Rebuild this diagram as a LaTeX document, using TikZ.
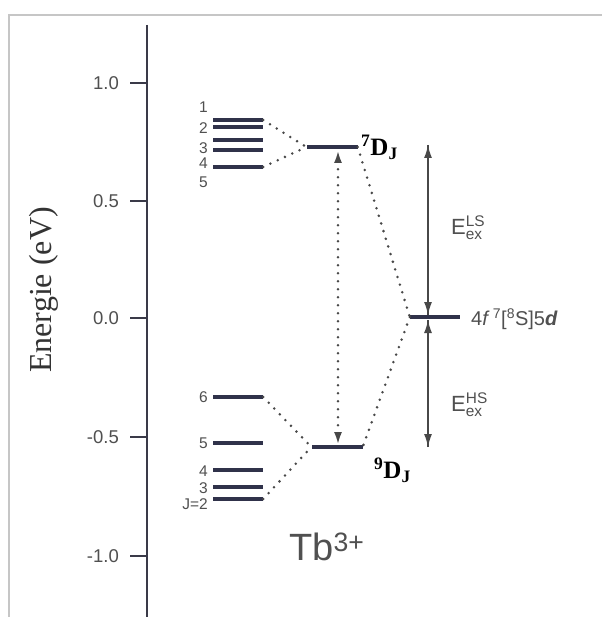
\documentclass[tikz,border=0pt]{standalone}
\usepackage{fontspec}
\setmainfont{Liberation Serif}
\setsansfont{Liberation Sans}
\usetikzlibrary{
    arrows.meta,
    positioning,
    calc
}
\definecolor{levelcol}{HTML}{30324A}
\definecolor{textcol}{HTML}{505050}
\definecolor{axiscol}{HTML}{3A3A48}
\definecolor{dotcol}{HTML}{484848}
\definecolor{framecol}{HTML}{C6C6C6}

\begin{document}
\begin{tikzpicture}[
    x=1pt,
    y=-1pt,
    every node/.style={
        inner sep=0pt,
        text=textcol,
        font=\sffamily\fontsize{18pt}{20pt}\selectfont
    },
    level/.style={
        rectangle,
        fill=levelcol,
        minimum width=50pt,
        minimum height=4pt,
        inner sep=0pt
    },
    lvlabel/.style={
        anchor=east,
        font=\sffamily\fontsize{15.5pt}{17pt}\selectfont
    },
    ticklabel/.style={
        anchor=east,
        font=\sffamily\fontsize{18.5pt}{20pt}\selectfont
    },
    termlabel/.style={
        anchor=west,
        text=black,
        font=\rmfamily\bfseries\fontsize{25pt}{27pt}\selectfont
    },
    axis/.style={
        draw=axiscol,
        line width=2pt
    },
    dotline/.style={
        draw=dotcol,
        line width=2.8pt,
        line cap=round,
        dash pattern=on 0pt off 8pt
    },
    dotarrow/.style={
        dotline,
        {Latex[length=13pt,width=8pt]}-{Latex[length=13pt,width=8pt]}
    },
    arrow/.style={
        draw=dotcol,
        line width=1.5pt,
        -{Latex[length=13pt,width=8pt]}
    },
    energy/.style={
        anchor=base west,
        font=\sffamily\fontsize{22pt}{24pt}\selectfont
    }
]

% page and frame
\fill[white] (0,0) rectangle (602,617);
\useasboundingbox (0,0) rectangle (602,617);
\draw[framecol, line width=2pt] (9,617) -- (9,15) -- (602,15);

% ===========================================================
% ENERGY AXIS
% ===========================================================

\draw[axis] (147,25) -- (147,617);

\draw[axis] (130,83) -- (147,83);
\draw[axis] (130,201) -- (147,201);
\draw[axis] (130,318) -- (147,318);
\draw[axis] (130,437) -- (147,437);
\draw[axis] (130,556) -- (147,556);

\node[ticklabel] (t1) at (119,83) {1.0};
\node[ticklabel] (t2) at (119,201) {0.5};
\node[ticklabel] (t3) at (119,318) {0.0};
\node[ticklabel] (t4) at (119,437) {-0.5};
\node[ticklabel] (t5) at (119,556) {-1.0};

\node[
    rotate=90,
    text=black!80,
    font=\rmfamily\fontsize{32pt}{34pt}\selectfont
] (ylabel) at (44,290) {Energie (eV)};

% ===========================================================
% 7F_J MULTIPLET
% ===========================================================

% upper part (J = 1 ... 5)
\node[level] (fu1) at (238,120) {};
\node[level] (fu2) at (238,127) {};
\node[level] (fu3) at (238,140) {};
\node[level] (fu4) at (238,150) {};
\node[level] (fu5) at (238,167) {};

\node[lvlabel] (lu1) at (208,107) {1};
\node[lvlabel] (lu2) at (208,128) {2};
\node[lvlabel] (lu3) at (208,148) {3};
\node[lvlabel] (lu4) at (208,163) {4};
\node[lvlabel] (lu5) at (208,182) {5};

% lower part (J = 6 ... 2)
\node[level] (fl6) at (238,397) {};
\node[level] (fl5) at (238,443) {};
\node[level] (fl4) at (238,470) {};
\node[level] (fl3) at (238,487) {};
\node[level] (fl2) at (238,499) {};

\node[lvlabel] (ll6) at (208,397) {6};
\node[lvlabel] (ll5) at (208,443) {5};
\node[lvlabel] (ll4) at (208,471) {4};
\node[lvlabel] (ll3) at (208,488) {3};
\node[lvlabel] (ll2) at (208,504) {J=2};

% ===========================================================
% 7D_J AND 9D_J TERMS
% ===========================================================

\node[level, minimum width=51pt] (d7) at (332,147) {};
\node[level, minimum width=51pt] (d9) at (337,447) {};

\node[termlabel] (ld7) at (361,147)
    {\textsuperscript{7}D\textsubscript{J}};
\node[termlabel] (ld9) at (374,470)
    {\textsuperscript{9}D\textsubscript{J}};

\draw[dotline] (fu1.east) -- (d7.west);
\draw[dotline] (fu5.east) -- (d7.west);
\draw[dotline] (fl6.east) -- (d9.west);
\draw[dotline] (fl2.east) -- (d9.west);

% transition between both terms
\coordinate (trtop) at (338,150);
\coordinate (trbot) at (338,445);
\draw[dotarrow] (trbot) -- (trtop);

% ===========================================================
% 4f7 5d CONFIGURATION
% ===========================================================

\node[level] (fd) at (435,317) {};

\node[anchor=west, font=\sffamily\fontsize{20pt}{22pt}\selectfont] (lfd)
    at (471,319)
    {4\textit{f}\,\textsuperscript{7}[\textsuperscript{8}S]5\textit{\textbf{d}}};

\draw[dotline] (d7.east) -- (fd.west);
\draw[dotline] (fd.west) -- (d9.east);

% exchange energies
\coordinate (lstop) at (428,145);
\coordinate (lsbot) at (428,315);
\coordinate (hstop) at (428,320);
\coordinate (hsbot) at (428,447);

\draw[arrow] (lsbot) -- (lstop);
\draw[arrow] (lstop) -- (lsbot);
\draw[arrow] (hsbot) -- (hstop);
\draw[arrow] (hstop) -- (hsbot);

\node[energy] (els) at (451,234)
    {E$_{\mathsf{ex}}^{\mathsf{LS}}$};
\node[energy] (ehs) at (451,411)
    {E$_{\mathsf{ex}}^{\mathsf{HS}}$};

% ion
\node[anchor=west, font=\sffamily\fontsize{38pt}{40pt}\selectfont] (ion)
    at (289,547) {Tb\textsuperscript{3+}};

\end{tikzpicture}
\end{document}
